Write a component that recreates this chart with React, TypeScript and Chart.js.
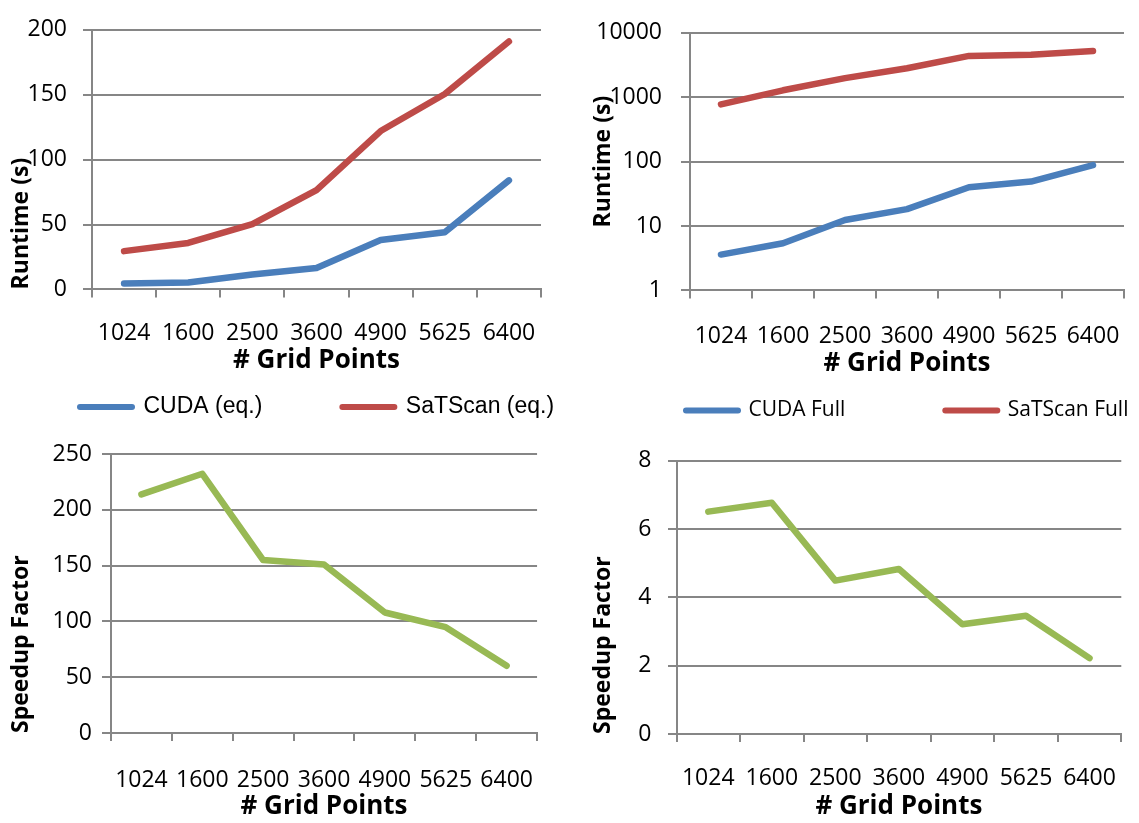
import React, { useEffect, useRef } from 'react';
import { Chart, registerables } from 'chart.js';

Chart.register(...registerables);

// ---------- data ----------
const categories = ['1024', '1600', '2500', '3600', '4900', '5625', '6400'];
const cudaEq = [4.5, 5.3, 11.5, 16.5, 38, 44, 84];
const satscanEq = [29.5, 35.8, 50.3, 76.5, 122, 150.5, 191];
const cudaFull = [3.6, 5.4, 12.4, 18.3, 40, 49, 88];
const satscanFull = [775, 1280, 1980, 2820, 4380, 4560, 5220];
const speedupFull = [213.8, 232.3, 155, 151, 108, 94.8, 60.2];
const speedupEq = [6.51, 6.77, 4.49, 4.83, 3.21, 3.46, 2.22];
const logTickValues = [1, 10, 100, 1000, 10000];

const BLUE = '#4A7EBB';
const RED = '#BE4B48';
const GREEN = '#98B954';
const GRID = '#868686';
const TXT = '#000000';

const tickFont = { family: 'Open Sans', size: 23 };

function lineDs(label: string, data: number[], color: string) {
  return {
    label,
    data,
    borderColor: color,
    backgroundColor: color,
    borderWidth: 6.5,
    pointRadius: 0,
    pointHoverRadius: 0,
    pointBorderWidth: 6,
    borderCapStyle: 'round',
    borderJoinStyle: 'round',
    tension: 0,
    fill: false,
  };
}

interface Spec {
  datasets: any[];
  yType: 'linear' | 'logarithmic';
  yMin: number;
  yMax: number;
  yStep?: number;
  yTitle: string;
  yTitleAlign: 'start' | 'center' | 'end';
  yWidth: number;
  yTitlePad: number;
  yTickPad: number;
  yTickLen: number;
  xTickPad: number;
  xTitlePadTop: number;
  xTitlePadBottom: number;
  padTop: number;
  padRight: number;
  padBottom: number;
  dummyRight?: number;
  legend?: { family: string; size: number; padding: number; dy: number };
}

function buildConfig(s: Spec): any {
  const scales: any = {
    x: {
      type: 'category',
      offset: true,
      grid: {
        offset: true,
        drawOnChartArea: false,
        drawTicks: true,
        tickLength: 8,
        color: GRID,
        lineWidth: 2,
      },
      border: { display: true, color: GRID, width: 2 },
      ticks: {
        font: tickFont,
        color: TXT,
        padding: s.xTickPad,
        autoSkip: false,
        maxRotation: 0,
        minRotation: 0,
      },
      title: {
        display: true,
        text: '# Grid Points',
        font: { family: 'Open Sans', size: 26, weight: 'bold' },
        color: TXT,
        padding: { top: s.xTitlePadTop, bottom: s.xTitlePadBottom },
      },
    },
    y: {
      type: s.yType,
      position: 'left',
      min: s.yMin,
      max: s.yMax,
      afterFit: (sc: any) => {
        sc.width = s.yWidth;
      },
      grid: {
        color: GRID,
        lineWidth: 2,
        drawTicks: true,
        tickLength: s.yTickLen,
      },
      border: { display: true, color: GRID, width: 2 },
      ticks: {
        font: tickFont,
        color: TXT,
        padding: s.yTickPad,
        ...(s.yStep ? { stepSize: s.yStep } : {}),
        ...(s.yType === 'logarithmic' ? { callback: (v: any) => String(v) } : {}),
      },
      ...(s.yType === 'logarithmic'
        ? {
            afterBuildTicks: (sc: any) => {
              sc.ticks = logTickValues.map((v) => ({ value: v }));
            },
          }
        : {}),
      title: {
        display: true,
        text: s.yTitle,
        align: s.yTitleAlign,
        font: { family: 'Open Sans', size: 23, weight: 'bold' },
        color: TXT,
        padding: { top: s.yTitlePad, bottom: 0 },
      },
    },
  };
  if (s.dummyRight) {
    scales.spacer = {
      type: 'linear',
      position: 'right',
      display: true,
      afterFit: (sc: any) => {
        sc.width = s.dummyRight;
      },
      grid: { display: false },
      border: { display: false },
      ticks: { display: false },
      title: { display: false },
    };
  }
  const legendOffset = {
    id: 'legendOffset',
    afterLayout: (chart: any) => {
      const lg = chart.legend;
      if (lg && s.legend) {
        lg.top += s.legend.dy;
        lg.bottom += s.legend.dy;
      }
    },
  };
  return {
    type: 'line',
    data: { labels: categories, datasets: s.datasets },
    plugins: [legendOffset],
    options: {
      responsive: false,
      animation: false,
      devicePixelRatio: 1,
      events: [],
      layout: {
        padding: { top: s.padTop, right: s.padRight, bottom: s.padBottom, left: 0 },
      },
      plugins: {
        tooltip: { enabled: false },
        title: { display: false },
        legend: s.legend
          ? {
              display: true,
              position: 'bottom',
              align: 'start',
              labels: {
                usePointStyle: true,
                pointStyle: 'line',
                pointStyleWidth: 52,
                padding: s.legend.padding,
                color: TXT,
                font: { family: s.legend.family, size: s.legend.size },
                generateLabels: (chart: any) =>
                  Chart.defaults.plugins.legend.labels
                    .generateLabels(chart)
                    .map((l: any) => ({ ...l, lineWidth: 6, lineCap: 'round' })),
              },
            }
          : { display: false },
      },
      scales,
    },
  };
}

function Panel(props: { left: number; top: number; width: number; height: number; spec: Spec }) {
  const ref = useRef<HTMLCanvasElement | null>(null);
  useEffect(() => {
    if (!ref.current) return;
    const chart = new Chart(ref.current, buildConfig(props.spec));
    return () => chart.destroy();
  }, []);
  return (
    <canvas
      ref={ref}
      width={props.width}
      height={props.height}
      style={{
        position: 'absolute',
        left: props.left,
        top: props.top,
        width: props.width,
        height: props.height,
      }}
    />
  );
}

const specTL: Spec = {
  datasets: [lineDs('CUDA (eq.)', cudaEq, BLUE), lineDs('SaTScan (eq.)', satscanEq, RED)],
  yType: 'linear',
  yMin: 0,
  yMax: 200,
  yStep: 50,
  yTitle: 'Runtime (s)',
  yTitleAlign: 'start',
  yWidth: 92,
  yTitlePad: 8,
  yTickPad: 16,
  yTickLen: 9,
  xTickPad: 22,
  xTitlePadTop: -24.2,
  xTitlePadBottom: 0,
  padTop: 22,
  padRight: 0,
  padBottom: 0,
  dummyRight: 119,
  legend: { family: 'Liberation Sans', size: 23, padding: 80, dy: -60.4 },
};

const specTR: Spec = {
  datasets: [lineDs('CUDA Full', cudaFull, BLUE), lineDs('SaTScan Full', satscanFull, RED)],
  yType: 'logarithmic',
  yMin: 1,
  yMax: 10000,
  yTitle: 'Runtime (s)',
  yTitleAlign: 'center',
  yWidth: 104,
  yTitlePad: 3.2,
  yTickPad: 19,
  yTickLen: 9,
  xTickPad: 24,
  xTitlePadTop: -26.2,
  xTitlePadBottom: 0,
  padTop: 16,
  padRight: 0,
  padBottom: 0,
  dummyRight: 142,
  legend: { family: 'Open Sans', size: 21, padding: 100, dy: -79.1 },
};

const specBL: Spec = {
  datasets: [lineDs('Speedup Full', speedupFull, GREEN)],
  yType: 'linear',
  yMin: 0,
  yMax: 250,
  yStep: 50,
  yTitle: 'Speedup Factor',
  yTitleAlign: 'start',
  yWidth: 111,
  yTitlePad: 8,
  yTickPad: 10,
  yTickLen: 9,
  xTickPad: 26,
  xTitlePadTop: -29.2,
  xTitlePadBottom: 0,
  padTop: 24,
  padRight: 15,
  padBottom: 0.4,
};

const specBR: Spec = {
  datasets: [lineDs('Speedup (eq.)', speedupEq, GREEN)],
  yType: 'linear',
  yMin: 0,
  yMax: 8,
  yStep: 2,
  yTitle: 'Speedup Factor',
  yTitleAlign: 'start',
  yWidth: 90.5,
  yTitlePad: 3.2,
  yTickPad: 16.5,
  yTickLen: 8.5,
  xTickPad: 23,
  xTitlePadTop: -24.2,
  xTitlePadBottom: 0,
  padTop: 30.7,
  padRight: 2.5,
  padBottom: 0.4,
};

export default function App() {
  return (
    <div
      style={{
        position: 'fixed',
        left: 0,
        top: 0,
        width: 1139,
        height: 823,
        overflow: 'hidden',
        background: '#ffffff',
      }}
    >
      <Panel left={0} top={0} width={660} height={489} spec={specTL} />
      <Panel left={586} top={0} width={680} height={510} spec={specTR} />
      <Panel left={0} top={430} width={560} height={393} spec={specBL} />
      <Panel left={586} top={430} width={553} height={393} spec={specBR} />
    </div>
  );
}
